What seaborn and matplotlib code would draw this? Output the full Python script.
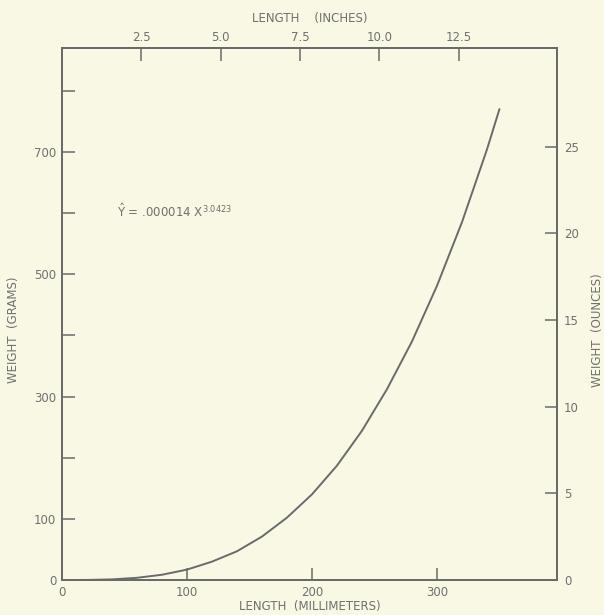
import numpy as np
import pandas as pd
import matplotlib
matplotlib.use("Agg")
import matplotlib.pyplot as plt
import seaborn as sns

# Values
length_mm = [0, 20, 40, 60, 80, 100, 120, 140, 160, 180, 200, 220, 240, 260,
             280, 300, 320, 340, 350]
weight_g = [0, 0.1, 1, 3.6, 8.6, 17, 30, 47, 71, 102, 140, 187, 244, 312,
            390, 481, 585, 704, 770]

x_ticks = [0, 100, 200, 300]
y_ticks = [0, 100, 200, 300, 400, 500, 600, 700, 800]
y_ticklabels = ["0", "100", "", "300", "", "500", "", "700", ""]
inch_ticks = [2.5, 5.0, 7.5, 10.0, 12.5]
inch_labels = ["2.5", "5.0", "7.5", "10.0", "12.5"]
oz_ticks = [0, 5, 10, 15, 20, 25]

BG = "#F8F8E4"
INK = "#6a6a6a"
TXT = "#707070"

sns.set_style("white")
plt.rcParams["font.family"] = ["DejaVu Sans"]
plt.rcParams["mathtext.fontset"] = "dejavusans"

fig = plt.figure(figsize=(6.04, 6.15), dpi=100, facecolor=BG)
ax = fig.add_axes([0.1026, 0.0569, 0.8195, 0.8651])
ax.set_facecolor(BG)

df = pd.DataFrame({"length": length_mm, "weight": weight_g})
sns.lineplot(data=df, x="length", y="weight", ax=ax, color=INK, linewidth=1.4)

XMAX, YMAX = 396, 870
ax.set_xlim(0, XMAX)
ax.set_ylim(0, YMAX)
ax.set_xticks(x_ticks)
ax.set_xticklabels([str(v) for v in x_ticks])
ax.set_yticks(y_ticks)
ax.set_yticklabels(y_ticklabels)
ax.tick_params(axis="both", direction="in", length=9, width=1.1, color=INK,
               labelcolor=TXT, labelsize=8.5, pad=4)
ax.set_xlabel("LENGTH  (MILLIMETERS)", color=TXT, fontsize=8.5, labelpad=1)
ax.set_ylabel("WEIGHT  (GRAMS)", color=TXT, fontsize=8.5, labelpad=6)
ax.yaxis.set_label_coords(-0.085, 0.47)
for s in ax.spines.values():
    s.set_color(INK)
    s.set_linewidth(1.2)

ax.text(44, 604, r"$\mathrm{\hat{Y}}$ = .000014 X$^{3.0423}$", color=TXT,
        fontsize=8.5, va="center", ha="left")

# Top axis: inches
axt = ax.twiny()
axt.set_xlim(0, XMAX / 25.4)
axt.set_xticks(inch_ticks)
axt.set_xticklabels(inch_labels)
axt.tick_params(axis="x", direction="in", length=9, width=1.1, color=INK,
                labelcolor=TXT, labelsize=8.5, pad=3)
axt.set_xlabel("LENGTH    (INCHES)", color=TXT, fontsize=8.5, labelpad=6)

# Right axis: ounces
axr = ax.twinx()
axr.set_ylim(0, YMAX / 28.35)
axr.set_yticks(oz_ticks)
axr.set_yticklabels([str(v) for v in oz_ticks])
axr.tick_params(axis="y", direction="in", length=9, width=1.1, color=INK,
                labelcolor=TXT, labelsize=8.5, pad=5)
axr.set_ylabel("WEIGHT  (OUNCES)", color=TXT, fontsize=8.5, rotation=90)
axr.yaxis.set_label_coords(1.068, 0.47)

for a in (axt, axr):
    for s in a.spines.values():
        s.set_color(INK)
        s.set_linewidth(1.2)

fig.savefig("out.png", dpi=100, facecolor=BG)
